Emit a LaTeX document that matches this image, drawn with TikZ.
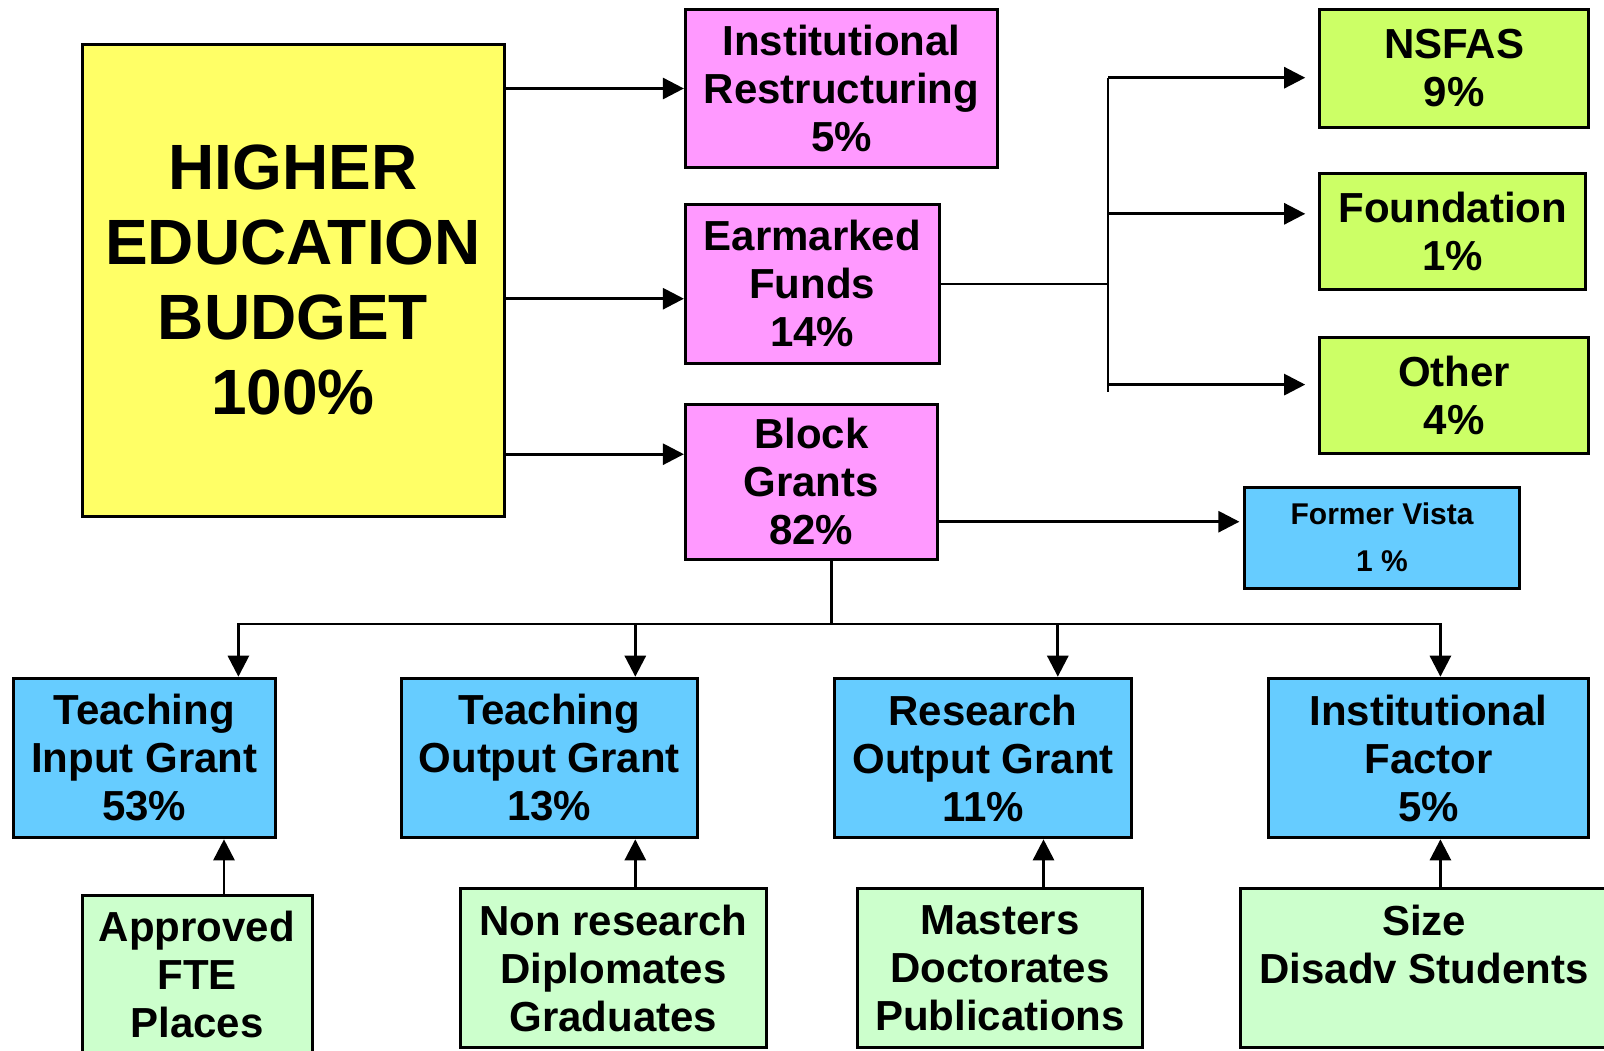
\documentclass[tikz,border=0pt]{standalone}
\usepackage{fontspec}
\setmainfont{Liberation Sans}
\usetikzlibrary{positioning, arrows.meta}
\definecolor{budgetyellow}{HTML}{FFFF66}
\definecolor{sharepink}{HTML}{FF99FF}
\definecolor{earlime}{HTML}{CCFF66}
\definecolor{grantblue}{HTML}{66CCFF}
\definecolor{inputgreen}{HTML}{CCFFCC}
\tikzset{
    >={Triangle[length=10.5pt, width=10.5pt]}, % Filled arrowheads
    box/.style={draw, line width=1.5pt, align=center, inner sep=0pt,
        font=\bfseries\fontsize{21}{24}\selectfont}, % Every box
    bigbox/.style={box, fill=budgetyellow,
        font=\bfseries\fontsize{32}{37.5}\selectfont}, % The whole budget
    pinkbox/.style={box, fill=sharepink}, % First split
    limebox/.style={box, fill=earlime}, % Earmarked parts
    bluebox/.style={box, fill=grantblue}, % Block grant parts
    greenbox/.style={box, fill=inputgreen}, % What drives a grant
    link/.style={line width=1.4pt}, % Plain connector
    flow/.style={link, ->}, % Connector with a head
}
\begin{document}
\begin{tikzpicture}[x=0.5pt, y=-0.5pt]
    \useasboundingbox (0,0) rectangle (1604,1050);
    \clip (0,0) rectangle (1604,1050);
    \fill[white] (0,0) rectangle (1604,1050);

    % top part
    \node[bigbox, minimum width=211pt, minimum height=236pt] (budget) at (293,280) {HIGHER\\EDUCATION\\BUDGET\\100\%};
    \node[pinkbox, minimum width=156pt, minimum height=79.3pt] (ir) at (841.4,88.5) {Institutional\\Restructuring\\5\%};
    \node[pinkbox, minimum width=126.9pt, minimum height=79.3pt] (ef) at (812.3,283.9) {Earmarked\\Funds\\14\%};
    \node[pinkbox, minimum width=125.8pt, minimum height=77.8pt] (bg) at (811.2,481.8) {Block\\Grants\\82\%};
    \node[limebox, minimum width=134.5pt, minimum height=59.3pt] (nsfas) at (1454.2,68.5) {NSFAS\\9\%};
    \node[limebox, minimum width=133pt, minimum height=57.8pt] (fnd) at (1452.7,231.7) {Foundation\\1\%};
    \node[limebox, minimum width=134.5pt, minimum height=57.8pt] (oth) at (1454.2,395.4) {Other\\4\%};
    \node[bluebox, minimum width=137.1pt, minimum height=50.6pt,
        font=\bfseries\fontsize{15}{23.5}\selectfont] (vista) at (1382,537.6) {Former Vista\\1 \%};

    % grants
    \node[bluebox, minimum width=131pt, minimum height=79.8pt] (tig) at (144.2,758) {Teaching\\Input Grant\\53\%};
    \node[bluebox, minimum width=148.3pt, minimum height=79.8pt] (tog) at (549.3,758) {Teaching\\Output Grant\\13\%};
    \node[bluebox, minimum width=148.3pt, minimum height=79.8pt] (rog) at (983.1,758) {Research\\Output Grant\\11\%};
    \node[bluebox, minimum width=160.1pt, minimum height=79.8pt] (inf) at (1428.6,758) {Institutional\\Factor\\5\%};

    % inputs
    \node[greenbox, minimum width=115pt, minimum height=79.3pt] (appr) at (197,974.3) {Approved\\FTE\\Places};
    \node[greenbox, minimum width=152.9pt, minimum height=79.3pt] (nonres) at (613.3,968.2) {Non research\\Diplomates\\Graduates};
    \node[greenbox, minimum width=142.7pt, minimum height=79.3pt] (mast) at (1000,968.2) {Masters\\Doctorates\\Publications};
    \node[greenbox, minimum width=184pt, minimum height=79.3pt] (size) at (1424,968.2) {Size\\Disadv Students\\~};

    % free ends
    \coordinate (efin) at ([yshift=-7.4pt]ef.west);
    \coordinate (bgin) at ([yshift=13.8pt]bg.west);
    \coordinate (nsin) at ([xshift=-6.5pt, yshift=-4.6pt]nsfas.west);
    \coordinate (fdin) at ([xshift=-6.5pt, yshift=8.95pt]fnd.west);
    \coordinate (otin) at ([xshift=-6.5pt, yshift=5.4pt]oth.west);
    \coordinate (etop) at (1108,77.7);
    \coordinate (ebot) at (1108,391.8);
    \coordinate (vsout) at ([yshift=-19.95pt]bg.east);
    \coordinate (stem) at ([xshift=10.25pt]bg.south);
    \coordinate (bus) at (stem |- 0,624);
    \coordinate (tgin) at ([xshift=47.1pt]tig.north);
    \coordinate (toin) at ([xshift=43pt]tog.north);
    \coordinate (roin) at ([xshift=37.35pt]rog.north);
    \coordinate (ifin) at ([xshift=5.9pt]inf.north);
    \coordinate (apout) at ([xshift=13.5pt]appr.north);
    \coordinate (nrout) at ([xshift=11pt]nonres.north);
    \coordinate (maout) at ([xshift=21.75pt]mast.north);
    \coordinate (szout) at ([xshift=8.2pt]size.north);

    \path[flow]
        (budget.east |- ir.west) edge (ir.west)
        (budget.east |- efin) edge (efin)
        (budget.east |- bgin) edge (bgin);

    \draw[link] (ef.east) -- (ef.east -| etop);
    \draw[link] (etop) -- (ebot);
    \path[flow]
        (nsin -| etop) edge (nsin)
        (fdin -| etop) edge (fdin)
        (otin -| etop) edge (otin)
        (vsout) edge[shorten >=2pt] (vsout -| vista.west);

    \draw[link] (stem) -- (bus);
    \draw[flow] (bus) -| (tgin);
    \draw[flow] (bus) -| (toin);
    \draw[flow] (bus) -| (roin);
    \draw[flow] (bus) -| (ifin);

    \path[flow]
        (apout) edge (apout |- tig.south)
        (nrout) edge (nrout |- tog.south)
        (maout) edge (maout |- rog.south)
        (szout) edge (szout |- inf.south);
\end{tikzpicture}
\end{document}
